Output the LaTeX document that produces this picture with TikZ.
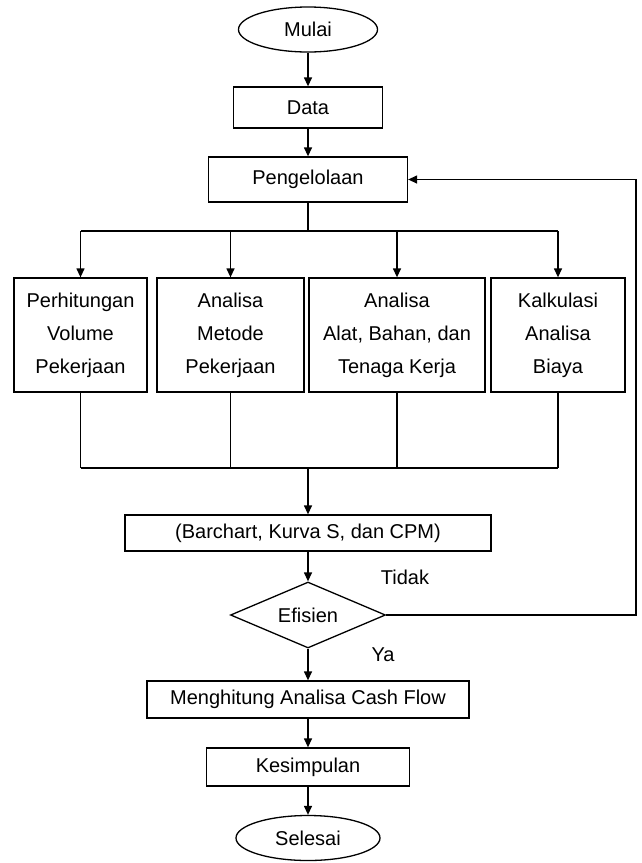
\documentclass[tikz,border=0pt]{standalone}
\usepackage{fontspec}
\setmainfont{Liberation Sans}
\usetikzlibrary{shapes.geometric,arrows.meta}
\begin{document}
\begin{tikzpicture}[x=1pt,y=-1pt,
  line width=1.3pt,
  every node/.style={font=\fontsize{20}{33}\selectfont},
  box/.style={draw, rectangle, inner sep=0pt, align=center},
  term/.style={draw, ellipse, inner sep=0pt},
  dec/.style={draw, diamond, inner sep=0pt, aspect=2},
  arr/.style={-{Triangle[length=9pt,width=8pt]}}]
\useasboundingbox (0,0) rectangle (641,863);
\node[term, minimum width=139pt, minimum height=45pt] (mulai) at (308,29.5) {Mulai};
\node[box, minimum width=149pt, minimum height=41pt] (data) at (308,107.5) {Data};
\node[box, minimum width=199pt, minimum height=45pt] (peng) at (308,179.5) {Pengelolaan};
\node[box, minimum width=133pt, minimum height=114pt] (b1) at (80.5,335) {Perhitungan\\Volume\\Pekerjaan};
\node[box, minimum width=147pt, minimum height=114pt] (b2) at (230.5,335) {Analisa\\Metode\\Pekerjaan};
\node[box, minimum width=176pt, minimum height=114pt] (b3) at (397,335) {Analisa\\Alat, Bahan, dan\\Tenaga Kerja};
\node[box, minimum width=134pt, minimum height=114pt] (b4) at (558,335) {Kalkulasi\\Analisa\\Biaya};
\node[box, minimum width=366pt, minimum height=36pt] (bar) at (308,533) {(Barchart, Kurva S, dan CPM)};
\node[dec, minimum width=155pt, minimum height=66pt] (efi) at (308,615) {Efisien};
\node[box, minimum width=322pt, minimum height=37pt] (mhg) at (308,699.5) {Menghitung Analisa Cash Flow};
\node[box, minimum width=203pt, minimum height=38pt] (kes) at (308,767) {Kesimpulan};
\node[term, minimum width=144pt, minimum height=45pt] (sel) at (308,838) {Selesai};
\node (tidak) at (405,577) {Tidak};
\node (ya) at (383,655) {Ya};
\coordinate (bt) at (308,231);
\coordinate (bb) at (308,468);
\coordinate (fbx) at (636,400);
\draw[arr] (mulai) -- (data);
\draw[arr] (data) -- (peng);
\draw (peng) -- (bt);
\draw (b1 |- bt) -- (b4 |- bt);
\draw[arr] (b1 |- bt) -- (b1);
\draw[arr] (b2 |- bt) -- (b2);
\draw[arr] (b3 |- bt) -- (b3);
\draw[arr] (b4 |- bt) -- (b4);
\draw (b1) -- (b1 |- bb);
\draw (b2) -- (b2 |- bb);
\draw (b3) -- (b3 |- bb);
\draw (b4) -- (b4 |- bb);
\draw (b1 |- bb) -- (b4 |- bb);
\draw[arr] (bb) -- (bar);
\draw[arr] (bar) -- (efi);
\draw[arr] (efi) -- (mhg);
\draw[arr] (mhg) -- (kes);
\draw[arr] (kes) -- (sel);
\draw[arr] (efi.east) -| (fbx |- peng.east) -- (peng.east);
\end{tikzpicture}
\end{document}
